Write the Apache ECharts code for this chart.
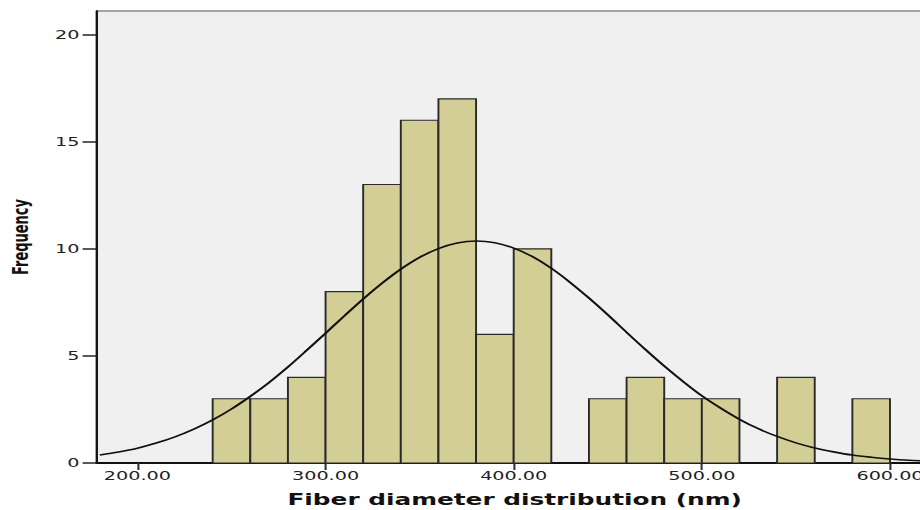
<!DOCTYPE html>
<html>
<head>
<meta charset="utf-8">
<title>Fiber diameter histogram</title>
<script src="https://cdn.jsdelivr.net/npm/echarts@6/dist/echarts.min.js"></script>
<style>
  html, body { margin: 0; padding: 0; background: #fff; overflow: hidden; }
  /* the source picture is stretched sideways, so the chart is drawn narrow and scaled */
  #chart { width: 575px; height: 510px; transform: scaleX(1.6); transform-origin: 0 0; }
</style>
</head>
<body>
<div id="chart"></div>
<script>
// histogram bins (lower edge, nm) and counts
var binStarts = [240, 260, 280, 300, 320, 340, 360, 380, 400, 420, 440, 460, 480, 500, 520, 540, 560, 580];
var counts    = [3,   3,   4,   8,   13,  16,  17,  6,   10,  0,   3,   4,   3,   3,   0,   4,   0,   3];
var binWidth = 20;

// normal curve
var curveX = [180, 190, 200, 210, 220, 230, 240, 250, 260, 270, 280, 290, 300, 310, 320, 330, 340, 350, 360, 370, 380,
              390, 400, 410, 420, 430, 440, 450, 460, 470, 480, 490, 500, 510, 520, 530, 540, 550, 560, 570, 580, 590, 600, 610, 620];
var curveY = [0.37, 0.51, 0.69, 0.93, 1.22, 1.58, 2.01, 2.52, 3.11, 3.76, 4.48, 5.26, 6.06, 6.87, 7.66, 8.39, 9.05, 9.60, 10.01, 10.27, 10.36,
              10.28, 10.03, 9.63, 9.09, 8.43, 7.70, 6.92, 6.10, 5.30, 4.53, 3.81, 3.14, 2.56, 2.04, 1.60, 1.24, 0.94, 0.70, 0.52, 0.37, 0.27, 0.19, 0.13, 0.09];

var xTicks = [200, 300, 400, 500, 600];
var yTicks = [0, 5, 10, 15, 20];

var barData = [];
binStarts.forEach(function (s, i) {
  if (counts[i] > 0) barData.push([s, counts[i]]);
});
var curveData = curveX.map(function (x, i) { return [x, curveY[i]]; });

var chart = echarts.init(document.getElementById('chart'), null, { renderer: 'svg' });
chart.setOption({
  animation: false,
  backgroundColor: '#fff',
  textStyle: { fontFamily: 'DejaVu Sans' },
  grid: {
    left: 60.6,
    right: -7.7,
    top: 11,
    bottom: 47,
    outerBoundsMode: 'none',
    containLabel: false,
    show: true,
    backgroundColor: '#f0f0f0',
    borderColor: '#888',
    borderWidth: 1.4
  },
  xAxis: {
    type: 'value',
    min: 178.5,
    max: 622.5,
    name: 'Fiber diameter distribution (nm)',
    nameLocation: 'middle',
    nameGap: 29,
    nameTextStyle: { fontSize: 15.5, fontWeight: 'bold', color: '#111', fontFamily: 'DejaVu Sans' },
    axisLine: { show: true, lineStyle: { color: '#111', width: 2 } },
    axisTick: { show: true, customValues: xTicks, length: 7, lineStyle: { color: '#333', width: 1.3 } },
    axisLabel: {
      customValues: xTicks,
      margin: 7,
      fontSize: 12,
      color: '#222',
      formatter: function (v) { return v.toFixed(2); }
    },
    splitLine: { show: false }
  },
  yAxis: {
    type: 'value',
    min: 0,
    max: 21.1,
    name: 'Frequency',
    nameLocation: 'middle',
    nameGap: 41,
    nameTextStyle: { fontSize: 13, fontWeight: 'bold', color: '#111', fontFamily: 'DejaVu Sans' },
    axisLine: { show: true, lineStyle: { color: '#111', width: 1.4 } },
    axisTick: { show: true, customValues: yTicks, length: 9, lineStyle: { color: '#222', width: 1.5 } },
    axisLabel: { customValues: yTicks, margin: 11, fontSize: 12, color: '#222' },
    splitLine: { show: false }
  },
  series: [
    {
      type: 'custom',
      data: barData,
      encode: { x: 0, y: 1 },
      renderItem: function (params, api) {
        var x0 = api.value(0);
        var h = api.value(1);
        var p0 = api.coord([x0, h]);
        var p1 = api.coord([x0 + binWidth, 0]);
        return {
          type: 'rect',
          shape: { x: p0[0], y: p0[1], width: p1[0] - p0[0], height: p1[1] - p0[1] },
          style: { fill: '#d3ce96', stroke: '#2a2a2a', lineWidth: 1.2 }
        };
      },
      z: 2
    },
    {
      type: 'line',
      data: curveData,
      smooth: 0.3,
      showSymbol: false,
      symbol: 'none',
      lineStyle: { color: '#111', width: 1.6 },
      z: 3
    }
  ]
});
</script>
</body>
</html>
